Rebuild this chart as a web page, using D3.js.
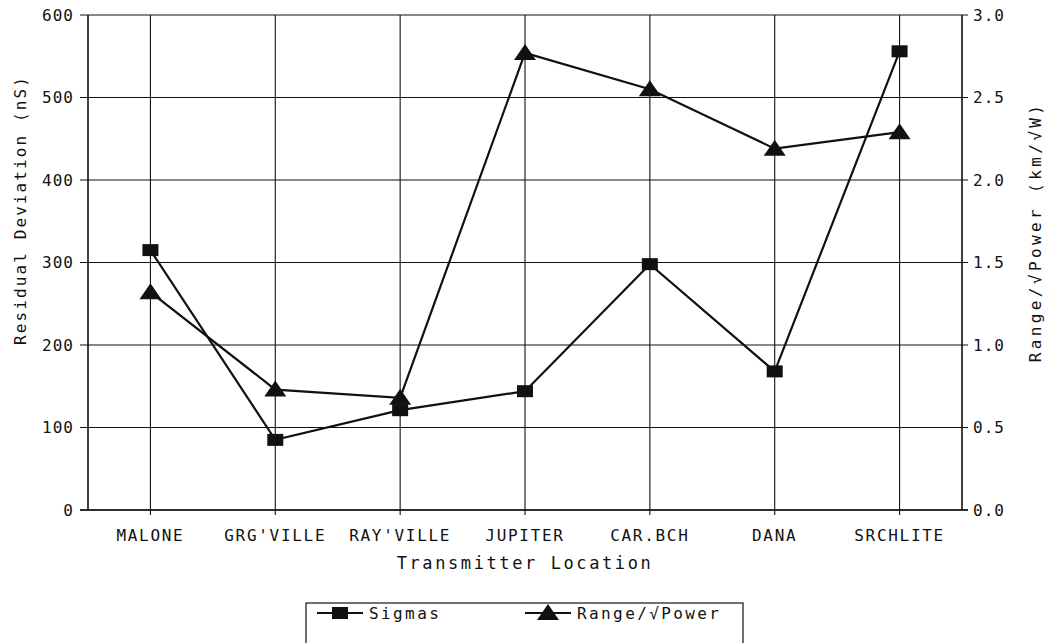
<!DOCTYPE html>
<html>
<head>
<meta charset="utf-8">
<script src="https://cdn.jsdelivr.net/npm/d3@7"></script>
<style>
  body { margin: 0; background: #fff; }
  svg { display: block; }
  text { font-family: "DejaVu Sans Mono", monospace; fill: #111; }
</style>
</head>
<body>
<svg id="chart" width="1057" height="643"></svg>
<script>
// Transmitter locations along the x axis
const categories = ["MALONE", "GRG'VILLE", "RAY'VILLE", "JUPITER", "CAR.BCH", "DANA", "SRCHLITE"];
// Residual deviation (nS), left axis
const sigmas = [315, 85, 121, 144, 298, 168, 556];
// Range / sqrt(power) (km/sqrt(W)), right axis
const rangePower = [1.32, 0.73, 0.68, 2.77, 2.55, 2.19, 2.29];
// Axis tick values
const leftTicks = [0, 100, 200, 300, 400, 500, 600];
const rightTicks = [0, 0.5, 1.0, 1.5, 2.0, 2.5, 3.0];

const svg = d3.select("#chart");
const plotLeft = 88, plotRight = 962, plotTop = 15, plotBottom = 510;

const x = d3.scalePoint().domain(categories).range([plotLeft, plotRight]).padding(0.5);
const yL = d3.scaleLinear().domain([0, 600]).range([plotBottom, plotTop]);
const yR = d3.scaleLinear().domain([0, 3]).range([plotBottom, plotTop]);

const ink = "#111";

// Horizontal grid lines with left/right tick stubs
const grid = svg.append("g");
grid.selectAll("line.h").data(leftTicks).join("line")
  .attr("x1", plotLeft - 8).attr("x2", plotRight + 6)
  .attr("y1", d => yL(d)).attr("y2", d => yL(d))
  .attr("stroke", ink).attr("stroke-width", 1.1);

// Vertical grid lines at each location, with tick stubs below the axis
grid.selectAll("line.v").data(categories).join("line")
  .attr("x1", d => x(d)).attr("x2", d => x(d))
  .attr("y1", plotTop).attr("y2", plotBottom + 5)
  .attr("stroke", ink).attr("stroke-width", 1.1);

// Frame: left axis, right axis, baseline
svg.append("line").attr("x1", plotLeft).attr("x2", plotLeft).attr("y1", plotTop).attr("y2", plotBottom)
  .attr("stroke", ink).attr("stroke-width", 1.6);
svg.append("line").attr("x1", plotRight).attr("x2", plotRight).attr("y1", plotTop).attr("y2", plotBottom)
  .attr("stroke", ink).attr("stroke-width", 1.6);
svg.append("line").attr("x1", plotLeft - 8).attr("x2", plotRight + 6).attr("y1", plotBottom).attr("y2", plotBottom)
  .attr("stroke", ink).attr("stroke-width", 1.6);

// Left tick labels
svg.append("g").selectAll("text").data(leftTicks).join("text")
  .attr("x", plotLeft - 14).attr("y", d => yL(d)).attr("dy", "0.36em")
  .attr("text-anchor", "end").attr("font-size", 16).attr("letter-spacing", 1)
  .text(d => d);

// Right tick labels
svg.append("g").selectAll("text").data(rightTicks).join("text")
  .attr("x", plotRight + 11).attr("y", d => yR(d)).attr("dy", "0.36em")
  .attr("text-anchor", "start").attr("font-size", 16).attr("letter-spacing", 1)
  .text(d => d3.format(".1f")(d));

// Category labels
svg.append("g").selectAll("text").data(categories).join("text")
  .attr("x", d => x(d)).attr("y", plotBottom + 31)
  .attr("text-anchor", "middle").attr("font-size", 16).attr("letter-spacing", 1.7)
  .text(d => d);

// Axis titles
svg.append("text")
  .attr("x", (plotLeft + plotRight) / 2).attr("y", plotBottom + 59)
  .attr("text-anchor", "middle").attr("font-size", 17).attr("letter-spacing", 2.6)
  .text("Transmitter Location");

svg.append("text")
  .attr("transform", `translate(26,210) rotate(-90)`)
  .attr("text-anchor", "middle").attr("font-size", 16).attr("letter-spacing", 2.1)
  .text("Residual Deviation (nS)");

svg.append("text")
  .attr("transform", `translate(1041,232) rotate(-90)`)
  .attr("text-anchor", "middle").attr("font-size", 16).attr("letter-spacing", 3.4)
  .text("Range/\u221APower  (km/\u221AW)");

// Series lines
const lineL = d3.line().x((d, i) => x(categories[i])).y(d => yL(d));
const lineR = d3.line().x((d, i) => x(categories[i])).y(d => yR(d));

svg.append("path").datum(sigmas).attr("d", lineL)
  .attr("fill", "none").attr("stroke", ink).attr("stroke-width", 2.2);
svg.append("path").datum(rangePower).attr("d", lineR)
  .attr("fill", "none").attr("stroke", ink).attr("stroke-width", 2.2);

// Markers
const squarePath = "M-8,-6H8V6H-8Z";
const trianglePath = "M0,-9L11,7H-11Z";

svg.append("g").selectAll("path").data(sigmas).join("path")
  .attr("transform", (d, i) => `translate(${x(categories[i])},${yL(d)})`)
  .attr("d", squarePath).attr("fill", ink);

svg.append("g").selectAll("path").data(rangePower).join("path")
  .attr("transform", (d, i) => `translate(${x(categories[i])},${yR(d)})`)
  .attr("d", trianglePath).attr("fill", ink);

// Legend
const legend = svg.append("g");
legend.append("rect").attr("x", 306).attr("y", 603).attr("width", 437).attr("height", 60)
  .attr("fill", "none").attr("stroke", ink).attr("stroke-width", 1.2);

const legendItems = [
  { name: "Sigmas", marker: squarePath, x0: 317 },
  { name: "Range/\u221APower", marker: trianglePath, x0: 525 }
];
const ly = 613;
legendItems.forEach(it => {
  legend.append("line").attr("x1", it.x0).attr("x2", it.x0 + 46).attr("y1", ly).attr("y2", ly)
    .attr("stroke", ink).attr("stroke-width", 2.2);
  legend.append("path").attr("transform", `translate(${it.x0 + 23},${ly})`)
    .attr("d", it.marker).attr("fill", ink);
  legend.append("text").attr("x", it.x0 + 52).attr("y", ly).attr("dy", "0.36em")
    .attr("font-size", 16).attr("letter-spacing", 2.4).text(it.name);
});
</script>
</body>
</html>
